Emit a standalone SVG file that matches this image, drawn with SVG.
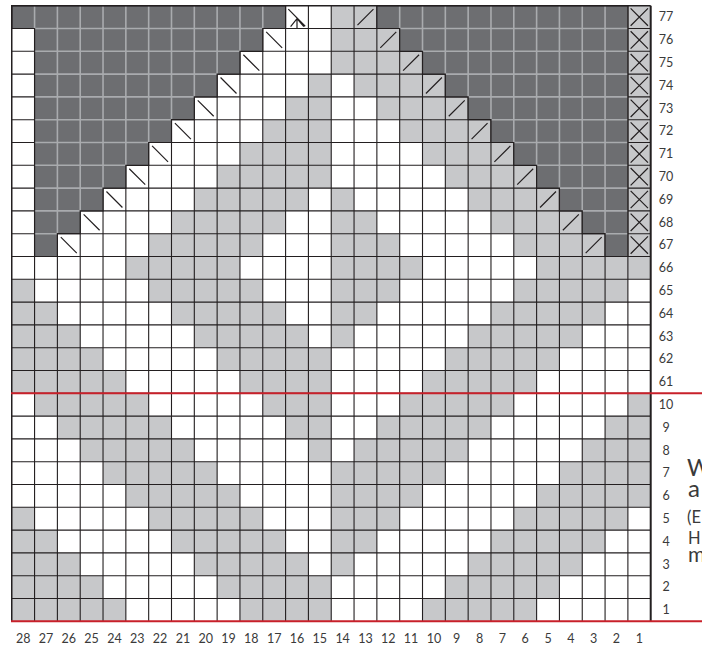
<svg xmlns="http://www.w3.org/2000/svg" width="702" height="650" viewBox="0 0 702 650">
<style>
.ln{fill:none;vector-effect:non-scaling-stroke;stroke-linecap:butt}
.grid{stroke:#231f20;stroke-width:1.1}
.inner{stroke:#a9abae;stroke-width:1.6}
.edge{stroke:#231f20;stroke-width:1.2}
.sym{stroke:#231f20;stroke-width:1.2}
.lbl{font-family:Lato,"Liberation Sans",sans-serif;font-size:12.5px;fill:#3a3a3a;text-anchor:middle}
.side{font-family:Lato,"Liberation Sans",sans-serif;fill:#3a3a3a}
</style>
<rect width="702" height="650" fill="#fff"/>
<g id="chart" transform="translate(11.75 5.7) scale(22.82 22.8)">
<rect id="bg" x="0" y="0" width="28" height="27" fill="#fff"/>
<path id="light" fill="#c7c8ca" d="M14 0h2v1h-2z M14 1h3v1h-3z M14 2h4v1h-4z M13 3h1v1h-1z M15 3h4v1h-4z M12 4h2v1h-2z M16 4h4v1h-4z M11 5h3v1h-3z M17 5h4v1h-4z M10 6h4v1h-4z M18 6h4v1h-4z M9 7h5v1h-5z M19 7h4v1h-4z M8 8h5v1h-5z M14 8h1v1h-1z M20 8h4v1h-4z M7 9h5v1h-5z M14 9h2v1h-2z M21 9h4v1h-4z M6 10h5v1h-5z M14 10h3v1h-3z M22 10h4v1h-4z M27 0h1v11h-1z M5 11h5v1h-5z M14 11h4v1h-4z M23 11h5v1h-5z M0 12h1v1h-1z M6 12h5v1h-5z M14 12h3v1h-3z M22 12h5v1h-5z M0 13h2v1h-2z M7 13h5v1h-5z M14 13h2v1h-2z M21 13h5v1h-5z M0 14h3v1h-3z M8 14h5v1h-5z M14 14h1v1h-1z M20 14h5v1h-5z M0 15h4v1h-4z M9 15h5v1h-5z M19 15h5v1h-5z M0 16h5v1h-5z M10 16h4v1h-4z M18 16h5v1h-5z M1 17h5v1h-5z M11 17h3v1h-3z M17 17h5v1h-5z M27 17h1v1h-1z M2 18h5v1h-5z M12 18h2v1h-2z M16 18h5v1h-5z M26 18h2v1h-2z M3 19h5v1h-5z M13 19h1v1h-1z M15 19h5v1h-5z M25 19h3v1h-3z M4 20h5v1h-5z M14 20h5v1h-5z M24 20h4v1h-4z M5 21h5v1h-5z M14 21h4v1h-4z M23 21h5v1h-5z M0 22h1v1h-1z M6 22h5v1h-5z M14 22h3v1h-3z M22 22h5v1h-5z M0 23h2v1h-2z M7 23h5v1h-5z M14 23h2v1h-2z M21 23h5v1h-5z M0 24h3v1h-3z M8 24h5v1h-5z M14 24h1v1h-1z M20 24h5v1h-5z M0 25h4v1h-4z M9 25h5v1h-5z M19 25h5v1h-5z M0 26h5v1h-5z M10 26h4v1h-4z M18 26h5v1h-5z"/>
<path id="gridlines" class="ln grid" d="M0 1H28M0 2H28M0 3H28M0 4H28M0 5H28M0 6H28M0 7H28M0 8H28M0 9H28M0 10H28M0 11H28M0 12H28M0 13H28M0 14H28M0 15H28M0 16H28M0 17H28M0 18H28M0 19H28M0 20H28M0 21H28M0 22H28M0 23H28M0 24H28M0 25H28M0 26H28M1 0V27M2 0V27M3 0V27M4 0V27M5 0V27M6 0V27M7 0V27M8 0V27M9 0V27M10 0V27M11 0V27M12 0V27M13 0V27M14 0V27M15 0V27M16 0V27M17 0V27M18 0V27M19 0V27M20 0V27M21 0V27M22 0V27M23 0V27M24 0V27M25 0V27M26 0V27M27 0V27"/>
<g id="dark-left">
<path fill="#6d6e71" d="M0 0H12V1H11V2H10V3H9V4H8V5H7V6H6V7H5V8H4V9H3V10H2V11H1V1H0Z"/>
</g>
<g id="dark-right">
<path fill="#6d6e71" d="M16 0H27V11H26V10H25V9H24V8H23V7H22V6H21V5H20V4H19V3H18V2H17V1H16Z"/>
</g>
<path id="dark-inner" class="ln inner" d="M1 0V1M2 0V10M3 0V9M4 0V8M5 0V7M6 0V6M7 0V5M8 0V4M9 0V3M10 0V2M11 0V1M1 1H11M1 2H10M1 3H9M1 4H8M1 5H7M1 6H6M1 7H5M1 8H4M1 9H3M1 10H2M17 0V1M18 0V2M19 0V3M20 0V4M21 0V5M22 0V6M23 0V7M24 0V8M25 0V9M26 0V10M17 1H27M18 2H27M19 3H27M20 4H27M21 5H27M22 6H27M23 7H27M24 8H27M25 9H27M26 10H27"/>
<path id="dark-edges" class="ln edge" d="M0 0H12V1H11V2H10V3H9V4H8V5H7V6H6V7H5V8H4V9H3V10H2V11H1V1H0Z M16 0H27V11H26V10H25V9H24V8H23V7H22V6H21V5H20V4H19V3H18V2H17V1H16Z"/>
<g id="symbols">
<path id="dec-left" class="ln sym" d="M11.15 1.15L11.85 1.85M10.15 2.15L10.85 2.85M9.15 3.15L9.85 3.85M8.15 4.15L8.85 4.85M7.15 5.15L7.85 5.85M6.15 6.15L6.85 6.85M5.15 7.15L5.85 7.85M4.15 8.15L4.85 8.85M3.15 9.15L3.85 9.85M2.15 10.15L2.85 10.85"/>
<path id="dec-right" class="ln sym" d="M15.15 0.85L15.85 0.15M16.15 1.85L16.85 1.15M17.15 2.85L17.85 2.15M18.15 3.85L18.85 3.15M19.15 4.85L19.85 4.15M20.15 5.85L20.85 5.15M21.15 6.85L21.85 6.15M22.15 7.85L22.85 7.15M23.15 8.85L23.85 8.15M24.15 9.85L24.85 9.15M25.15 10.85L25.85 10.15"/>
<path id="bind-off" class="ln sym" d="M27.12 0.12L27.88 0.88M27.88 0.12L27.12 0.88M27.12 1.12L27.88 1.88M27.88 1.12L27.12 1.88M27.12 2.12L27.88 2.88M27.88 2.12L27.12 2.88M27.12 3.12L27.88 3.88M27.88 3.12L27.12 3.88M27.12 4.12L27.88 4.88M27.88 4.12L27.12 4.88M27.12 5.12L27.88 5.88M27.88 5.12L27.12 5.88M27.12 6.12L27.88 6.88M27.88 6.12L27.12 6.88M27.12 7.12L27.88 7.88M27.88 7.12L27.12 7.88M27.12 8.12L27.88 8.88M27.88 8.12L27.12 8.88M27.12 9.12L27.88 9.88M27.88 9.12L27.12 9.88M27.12 10.12L27.88 10.88M27.88 10.12L27.12 10.88"/>
<path id="special" class="ln sym" d="M12.12 0.15L12.86 0.9M12.22 0.92L12.5 0.57L12.8 0.92M12.5 0.57V0.98"/>
</g>
<path id="border" class="ln" stroke="#231f20" stroke-width="1.5" d="M0 27V0H28"/>
<path id="border-right" class="ln" stroke="#231f20" stroke-width="2" d="M28 0V27"/>
</g>
<g id="red-lines" stroke="#c8202a" stroke-width="2">
<line x1="11" y1="393.3" x2="702" y2="393.3"/>
<line x1="11" y1="621.3" x2="702" y2="621.3"/>
</g>
<g id="row-labels" class="lbl">
<text x="666" y="21.3">77</text>
<text x="666" y="44.1">76</text>
<text x="666" y="66.9">75</text>
<text x="666" y="89.7">74</text>
<text x="666" y="112.5">73</text>
<text x="666" y="135.3">72</text>
<text x="666" y="158.1">71</text>
<text x="666" y="180.9">70</text>
<text x="666" y="203.7">69</text>
<text x="666" y="226.5">68</text>
<text x="666" y="249.3">67</text>
<text x="666" y="272.1">66</text>
<text x="666" y="294.9">65</text>
<text x="666" y="317.7">64</text>
<text x="666" y="340.5">63</text>
<text x="666" y="363.3">62</text>
<text x="666" y="386.1">61</text>
<text x="666" y="408.9">10</text>
<text x="666" y="431.7">9</text>
<text x="666" y="454.5">8</text>
<text x="666" y="477.3">7</text>
<text x="666" y="500.1">6</text>
<text x="666" y="522.9">5</text>
<text x="666" y="545.7">4</text>
<text x="666" y="568.5">3</text>
<text x="666" y="591.3">2</text>
<text x="666" y="614.1">1</text>
</g>
<g id="col-labels" class="lbl">
<text x="23.16" y="643">28</text>
<text x="45.98" y="643">27</text>
<text x="68.8" y="643">26</text>
<text x="91.62" y="643">25</text>
<text x="114.44" y="643">24</text>
<text x="137.26" y="643">23</text>
<text x="160.08" y="643">22</text>
<text x="182.9" y="643">21</text>
<text x="205.72" y="643">20</text>
<text x="228.54" y="643">19</text>
<text x="251.36" y="643">18</text>
<text x="274.18" y="643">17</text>
<text x="297" y="643">16</text>
<text x="319.82" y="643">15</text>
<text x="342.64" y="643">14</text>
<text x="365.46" y="643">13</text>
<text x="388.28" y="643">12</text>
<text x="411.1" y="643">11</text>
<text x="433.92" y="643">10</text>
<text x="456.74" y="643">9</text>
<text x="479.56" y="643">8</text>
<text x="502.38" y="643">7</text>
<text x="525.2" y="643">6</text>
<text x="548.02" y="643">5</text>
<text x="570.84" y="643">4</text>
<text x="593.66" y="643">3</text>
<text x="616.48" y="643">2</text>
<text x="639.3" y="643">1</text>
</g>
<g id="side-text" class="side">
<text x="687" y="476" font-size="23">W</text>
<text x="688" y="497" font-size="24">a</text>
<text x="687" y="522.5" font-size="16.5">(E</text>
<text x="688" y="544" font-size="16.5">H</text>
<text x="688" y="561.5" font-size="21">m</text>
</g>
</svg>
